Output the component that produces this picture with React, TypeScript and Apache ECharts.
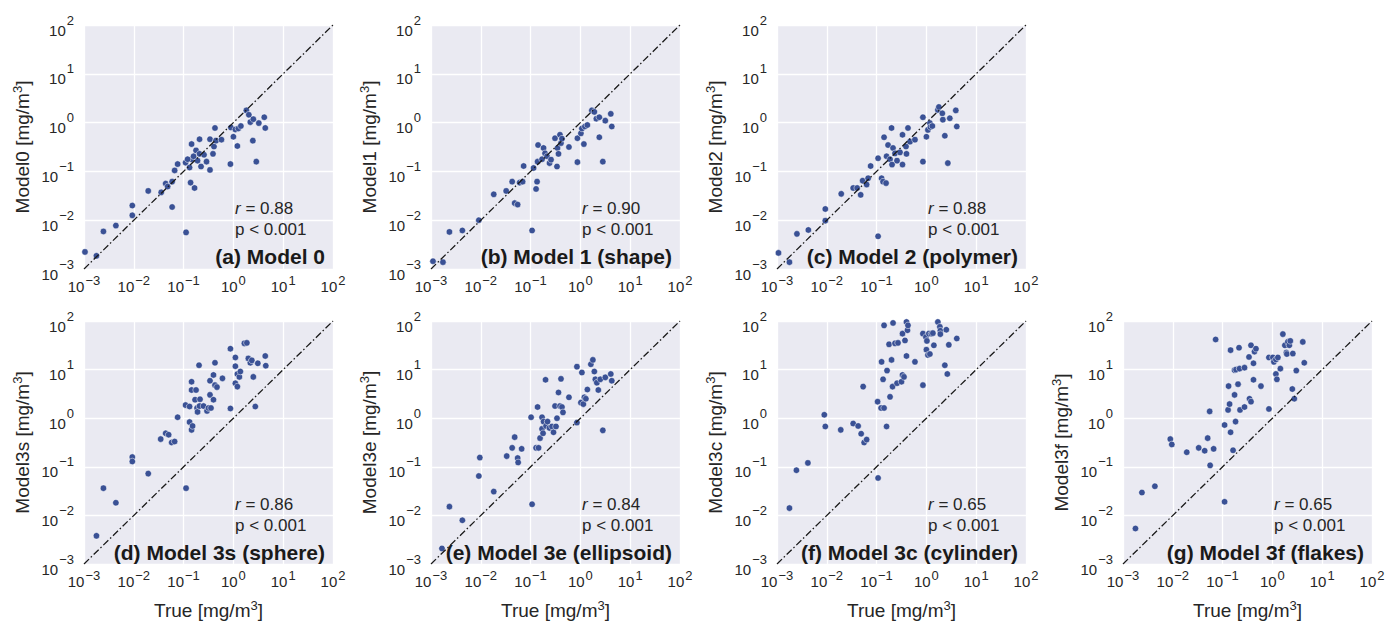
import React, { useEffect, useRef } from 'react';
import * as echarts from 'echarts';

// Axis range (log10 decades 10^-3 .. 10^2)
const AXIS_MIN = 0.001;
const AXIS_MAX = 100;

// Each pair is [log10(True), log10(Model)] (mg/m^3)
const model0Log = [
  [-2.98, -2.65], [-2.75, -2.73], [-2.61, -2.23], [-2.36, -2.11], [-2.03, -1.7], [-2.03, -1.9],
  [-1.71, -1.4], [-1.45, -1.43], [-1.36, -1.25], [-1.32, -1.31], [-1.23, -1.73], [-1.23, -1.21],
  [-1.18, -0.98], [-1.12, -0.85], [-0.96, -0.82], [-0.95, -2.25], [-0.88, -0.92], [-0.86, -1.23],
  [-0.78, -1.34], [-0.84, -0.44], [-0.84, -0.75], [-0.75, -0.57], [-0.72, -0.78], [-0.68, -0.34],
  [-0.68, -0.64], [-0.65, -0.9], [-0.59, -0.66], [-0.54, -0.8], [-0.47, -0.97], [-0.47, -0.34],
  [-0.41, -0.64], [-0.39, -0.49], [-0.37, -0.11], [-0.35, -0.37], [-0.24, -0.35], [-0.06, -0.85],
  [-0.05, -0.1], [0.0, -0.29], [0.04, -0.14], [0.08, -0.48], [0.1, -0.12], [0.15, -0.07],
  [0.26, 0.25], [0.31, 0.16], [0.34, 0.01], [0.4, 0.07], [0.39, -0.37], [0.46, -0.8],
  [0.51, -0.01], [0.62, 0.11], [0.64, -0.11], [-0.92, -0.75], [-0.8, -0.69],
];
const model1Log = [
  [-2.96, -2.84], [-2.76, -2.86], [-2.63, -2.24], [-2.37, -2.21], [-2.04, -2.0], [-1.74, -1.47],
  [-1.49, -1.4], [-1.37, -1.21], [-1.32, -1.65], [-1.26, -1.68], [-1.22, -1.23], [-1.16, -1.21],
  [-1.14, -0.89], [-0.97, -2.21], [-0.94, -0.93], [-0.89, -1.36], [-0.87, -1.21], [-0.86, -0.8],
  [-0.85, -0.46], [-0.77, -0.75], [-0.74, -0.52], [-0.71, -0.63], [-0.67, -0.69], [-0.62, -0.83],
  [-0.59, -0.76], [-0.51, -0.32], [-0.47, -0.9], [-0.46, -0.52], [-0.44, -0.64], [-0.41, -0.25],
  [-0.39, -0.42], [-0.37, -0.33], [-0.23, -0.5], [-0.06, -0.81], [-0.06, -0.32], [0.01, -0.22],
  [0.03, -0.12], [0.07, -0.44], [0.09, -0.08], [0.14, -0.05], [0.23, 0.25], [0.28, 0.22],
  [0.32, 0.08], [0.38, 0.11], [0.38, -0.3], [0.45, -0.8], [0.5, 0.04], [0.61, 0.18], [0.63, -0.08],
];
const model2Log = [
  [-2.97, -2.67], [-2.75, -2.86], [-2.6, -2.28], [-2.37, -2.2], [-2.03, -1.77], [-2.03, -2.01],
  [-1.71, -1.46], [-1.47, -1.34], [-1.39, -1.34], [-1.32, -1.48], [-1.28, -1.19], [-1.2, -1.27],
  [-1.17, -1.14], [-1.12, -0.89], [-0.97, -2.33], [-0.97, -0.73], [-0.9, -1.14], [-0.87, -1.21],
  [-0.81, -1.24], [-0.85, -0.3], [-0.8, -0.69], [-0.77, -0.46], [-0.73, -0.75], [-0.7, -0.11],
  [-0.69, -0.86], [-0.67, -0.52], [-0.63, -0.63], [-0.59, -0.78], [-0.53, -0.61], [-0.48, -0.86],
  [-0.48, -0.25], [-0.41, -0.49], [-0.4, -0.64], [-0.37, -0.11], [-0.33, -0.39], [-0.23, -0.35],
  [-0.07, -0.8], [-0.07, 0.11], [0.0, -0.29], [0.03, -0.15], [0.07, -0.01], [0.08, -0.09],
  [0.12, -0.07], [0.23, 0.26], [0.25, 0.32], [0.32, 0.19], [0.33, 0.06], [0.37, -0.27],
  [0.43, -0.83], [0.47, 0.09], [0.59, 0.25], [0.61, -0.08],
];
const model3sLog = [
  [-2.75, -2.42], [-2.61, -1.44], [-2.36, -1.74], [-2.03, -0.8], [-2.03, -0.89], [-1.71, -1.14],
  [-1.46, -0.43], [-1.36, -0.31], [-1.3, -0.34], [-1.24, -0.5], [-1.18, -0.48], [-1.12, 0.02],
  [-0.96, 0.27], [-0.95, -1.44], [-0.88, 0.24], [-0.88, -0.08], [-0.84, -0.24], [-0.82, -0.16],
  [-0.84, 0.75], [-0.84, 0.58], [-0.75, 0.58], [-0.77, 0.38], [-0.73, 0.21], [-0.72, 0.13],
  [-0.69, 1.09], [-0.68, 0.25], [-0.67, 0.39], [-0.6, 0.25], [-0.53, 0.15], [-0.5, 0.21],
  [-0.47, 0.77], [-0.47, 0.48], [-0.45, 0.21], [-0.4, 0.38], [-0.4, 0.89], [-0.37, 1.14],
  [-0.37, 0.68], [-0.33, 0.64], [-0.22, 0.82], [-0.06, 1.43], [-0.06, 0.2], [0.04, 1.25],
  [0.04, 1.07], [0.04, 0.72], [0.08, 0.91], [0.08, 0.65], [0.12, 0.85], [0.14, 0.96],
  [0.22, 1.54], [0.27, 1.55], [0.3, 1.23], [0.34, 1.14], [0.37, 1.19], [0.4, 0.85],
  [0.44, 0.24], [0.49, 1.13], [0.64, 1.28], [0.65, 1.08],
];
const model3eLog = [
  [-2.78, -2.68], [-2.63, -1.82], [-2.37, -2.1], [-2.04, -1.19], [-2.02, -0.81], [-1.74, -1.51],
  [-1.48, -0.78], [-1.37, -0.61], [-1.32, -0.39], [-1.26, -0.82], [-1.25, -0.91], [-1.18, -0.63],
  [-0.99, 0.02], [-0.97, -1.77], [-0.89, -0.61], [-0.86, 0.23], [-0.84, -0.61], [-0.81, -0.41],
  [-0.77, 0.02], [-0.77, -0.22], [-0.75, -0.31], [-0.74, -0.07], [-0.7, 0.79], [-0.69, -0.16],
  [-0.66, -0.07], [-0.62, -0.2], [-0.57, -0.17], [-0.54, -0.29], [-0.51, 0.25], [-0.49, -0.17],
  [-0.47, 0.0], [-0.44, 0.53], [-0.41, 0.25], [-0.39, 0.81], [-0.37, 0.23], [-0.35, 0.12],
  [-0.23, 0.43], [-0.07, 1.06], [-0.07, -0.09], [0.01, 0.32], [0.03, 0.94], [0.06, 0.29],
  [0.08, 0.43], [0.11, 0.4], [0.14, 0.59], [0.21, 1.11], [0.25, 1.2], [0.28, 0.96],
  [0.3, 0.8], [0.33, 0.73], [0.36, 0.58], [0.4, 0.8], [0.45, -0.25], [0.5, 0.84], [0.61, 0.91],
  [0.63, 0.77],
];
const model3cLog = [
  [-2.75, -1.85], [-2.61, -1.07], [-2.38, -0.92], [-2.05, 0.07], [-2.03, -0.17], [-1.72, -0.24],
  [-1.47, -0.11], [-1.37, -0.16], [-1.31, -0.32], [-1.27, 0.65], [-1.25, -0.5], [-1.2, -0.44],
  [-0.97, -1.23], [-0.98, 0.34], [-0.91, 0.21], [-0.85, 0.21], [-0.9, 1.16], [-0.87, 0.8],
  [-0.85, 1.91], [-0.8, -0.17], [-0.79, 0.98], [-0.75, 1.52], [-0.73, 0.44], [-0.7, 1.2],
  [-0.68, 0.65], [-0.67, 1.96], [-0.63, 1.54], [-0.59, 0.72], [-0.57, 1.55], [-0.5, 0.75],
  [-0.48, 0.89], [-0.48, 1.74], [-0.45, 0.85], [-0.43, 1.6], [-0.4, 1.28], [-0.4, 1.98],
  [-0.38, 1.81], [-0.37, 1.91], [-0.23, 1.16], [-0.07, 0.68], [-0.07, 1.74], [-0.01, 1.67],
  [0.0, 1.41], [0.01, 1.59], [0.03, 1.3], [0.05, 1.74], [0.07, 1.32], [0.1, 1.74], [0.13, 1.75],
  [0.15, 1.5], [0.23, 1.98], [0.27, 1.88], [0.28, 1.8], [0.28, 1.73], [0.37, 1.09], [0.4, 1.82],
  [0.42, 0.91], [0.45, 1.51], [0.61, 1.64],
];
const model3fLog = [
  [-2.75, -2.27], [-2.62, -1.53], [-2.36, -1.4], [-2.05, -0.43], [-2.02, -0.54], [-1.72, -0.7],
  [-1.48, -0.61], [-1.36, -0.67], [-1.3, -0.41], [-1.26, 0.14], [-1.25, -0.97], [-1.18, -0.63],
  [-1.14, 1.62], [-0.96, -1.72], [-0.96, -0.14], [-0.89, 0.17], [-0.88, 0.66], [-0.86, 0.29],
  [-0.84, 1.4], [-0.84, -0.29], [-0.79, -0.66], [-0.76, 0.48], [-0.76, 0.99], [-0.74, -0.07],
  [-0.73, 1.0], [-0.69, 0.7], [-0.67, 1.45], [-0.66, 1.02], [-0.65, 0.17], [-0.56, 1.04],
  [-0.56, 0.23], [-0.47, 1.26], [-0.46, 0.4], [-0.43, 0.34], [-0.43, 1.5], [-0.38, 0.79],
  [-0.38, 1.13], [-0.36, 1.37], [-0.33, 1.43], [-0.23, 0.66], [-0.07, 0.19], [-0.07, 1.25],
  [0.01, 1.25], [0.03, 1.16], [0.07, 0.91], [0.07, 1.21], [0.09, 0.8], [0.11, 1.25],
  [0.16, 1.02], [0.21, 1.73], [0.25, 1.5], [0.28, 1.35], [0.29, 1.32], [0.31, 1.57],
  [0.34, 1.5], [0.36, 1.59], [0.41, 1.33], [0.4, 0.6], [0.44, 0.4], [0.48, 0.98],
  [0.61, 1.57], [0.64, 1.14],
];

const panelData = [model0Log, model1Log, model2Log, model3sLog, model3eLog, model3cLog, model3fLog];
const yNames = ['Model0', 'Model1', 'Model2', 'Model3s', 'Model3e', 'Model3c', 'Model3f'];
const panelTitles = [
  '(a) Model 0',
  '(b) Model 1 (shape)',
  '(c) Model 2 (polymer)',
  '(d) Model 3s (sphere)',
  '(e) Model 3e (ellipsoid)',
  '(f) Model 3c (cylinder)',
  '(g) Model 3f (flakes)',
];
const rValues = ['0.88', '0.90', '0.88', '0.86', '0.84', '0.65', '0.65'];
const pText = 'p < 0.001';
const xName = 'True';
const unit = '[mg/m{sup|3}]';

// Layout (pixels)
const LEFTS = [84, 431, 777, 84, 431, 777, 1123];
const TOPS = [25, 25, 25, 321, 321, 321, 321];
const W = 249;
const H = 244;

const FONT = 'Liberation Sans, Arial, Helvetica, sans-serif';
const TEXT = '#262626';
const POINT = '#3A5195';

const supFmt = (v: number) => {
  const e = Math.round(Math.log10(v));
  const s = e < 0 ? '\u2212' + Math.abs(e) : String(e);
  return '{b|10}{s|' + s + '}';
};

const xTickRich = {
  b: { fontSize: 15, fontFamily: FONT, color: TEXT },
  s: { fontSize: 13, fontFamily: FONT, color: TEXT, padding: [0, 0, 11, 1] },
};
const yTickRich = {
  b: { fontSize: 15, fontFamily: FONT, color: TEXT, padding: [10, 0, 0, 0] },
  s: { fontSize: 13, fontFamily: FONT, color: TEXT, padding: [0, 0, 10, 1] },
};

const nameRich = {
  sup: { fontSize: 13, fontFamily: FONT, color: TEXT, padding: [0, 0, 10, 0] },
};

export default function App() {
  const ref = useRef<HTMLDivElement>(null);

  useEffect(() => {
    if (!ref.current) return;
    const chart = echarts.init(ref.current, null, { renderer: 'svg' });
    const n = panelData.length;
    const idx = Array.from({ length: n }, (_, i) => i);

    const grid = idx.map((i) => ({
      left: LEFTS[i],
      top: TOPS[i],
      width: W,
      height: H,
      show: true,
      backgroundColor: '#EAEAF2',
      borderWidth: 0,
    }));

    const axisCommon = {
      type: 'log',
      logBase: 10,
      min: AXIS_MIN,
      max: AXIS_MAX,
      splitNumber: 5,
      axisLine: { show: false },
      axisTick: { show: false },
      splitLine: { show: true, lineStyle: { color: '#FFFFFF', width: 1.3 } },
      minorSplitLine: { show: false },
      nameLocation: 'middle',
      nameTextStyle: { fontSize: 19, fontFamily: FONT, color: TEXT, rich: nameRich },
    };

    const labelCommon = {
      formatter: supFmt,
      fontSize: 15,
      fontFamily: FONT,
      color: TEXT,
      showMinLabel: true,
      showMaxLabel: true,
    };

    const xAxis = idx.map((i) => ({
      ...axisCommon,
      gridIndex: i,
      name: i >= 3 ? xName + ' ' + unit : '',
      nameGap: 35,
      axisLabel: { ...labelCommon, rich: xTickRich, margin: 5 },
    }));

    const yAxis = idx.map((i) => ({
      ...axisCommon,
      gridIndex: i,
      name: yNames[i] + ' ' + unit,
      nameGap: 50,
      axisLabel: { ...labelCommon, rich: yTickRich, margin: 10 },
    }));

    const series: any[] = [];
    idx.forEach((i) => {
      series.push({
        type: 'line',
        xAxisIndex: i,
        yAxisIndex: i,
        data: [
          [AXIS_MIN, AXIS_MIN],
          [AXIS_MAX, AXIS_MAX],
        ],
        showSymbol: false,
        symbol: 'none',
        silent: true,
        lineStyle: { color: '#1A1A1A', width: 1.3, type: [7, 2.5, 1.5, 2.5] },
        z: 3,
      });
      series.push({
        type: 'scatter',
        xAxisIndex: i,
        yAxisIndex: i,
        data: panelData[i].map(([lx, ly]) => [Math.pow(10, lx), Math.pow(10, ly)]),
        symbolSize: 6.5,
        itemStyle: { color: POINT, borderColor: '#FFFFFF', borderWidth: 0.5, opacity: 1 },
        z: 2,
      });
    });

    const graphic: any[] = [];
    idx.forEach((i) => {
      const right = LEFTS[i] + W;
      const bottom = TOPS[i] + H;
      graphic.push({
        type: 'text',
        x: right - 98,
        y: bottom - 61,
        z: 10,
        style: {
          text: '{i|r} = ' + rValues[i],
          fill: TEXT,
          fontSize: 17,
          fontFamily: FONT,
          align: 'left',
          verticalAlign: 'middle',
          textAlign: 'left',
          textVerticalAlign: 'middle',
          rich: { i: { fontStyle: 'italic', fontSize: 17, fontFamily: FONT, fill: TEXT } },
        },
      });
      graphic.push({
        type: 'text',
        x: right - 98,
        y: bottom - 40,
        z: 10,
        style: {
          text: pText,
          fill: TEXT,
          fontSize: 17,
          fontFamily: FONT,
          align: 'left',
          verticalAlign: 'middle',
          textAlign: 'left',
          textVerticalAlign: 'middle',
        },
      });
      graphic.push({
        type: 'text',
        x: right - 8,
        y: bottom - 13,
        z: 10,
        style: {
          text: panelTitles[i],
          fill: '#1A1A1A',
          fontSize: 21,
          fontWeight: 'bold',
          fontFamily: FONT,
          align: 'right',
          verticalAlign: 'middle',
          textAlign: 'right',
          textVerticalAlign: 'middle',
        },
      });
    });

    chart.setOption({
      animation: false,
      backgroundColor: '#FFFFFF',
      textStyle: { fontFamily: FONT },
      grid,
      xAxis,
      yAxis,
      series,
      graphic,
    } as any);

    return () => chart.dispose();
  }, []);

  return (
    <div
      ref={ref}
      style={{ position: 'absolute', left: 0, top: 0, width: 1388, height: 621 }}
    />
  );
}
